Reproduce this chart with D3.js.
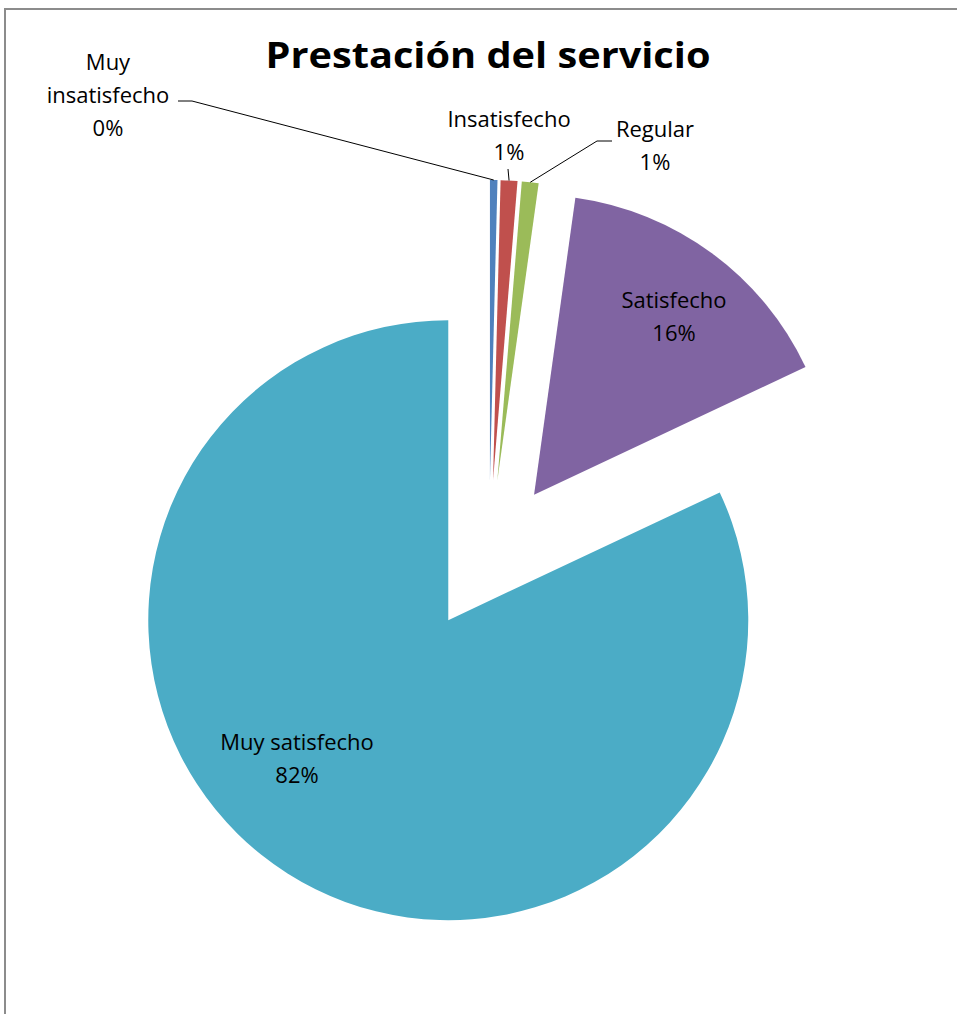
<!DOCTYPE html>
<html>
<head>
<meta charset="utf-8">
<script src="https://cdn.jsdelivr.net/npm/d3@7"></script>
<style>
  html, body { margin: 0; padding: 0; background: #fff; }
  svg { display: block; }
  text { font-family: "Open Sans", Lato, "Liberation Sans", sans-serif; fill: #000; }
</style>
</head>
<body>
<svg id="chart" width="957" height="1014"></svg>
<script>
// Survey answers: satisfaction with the service
const categories = ["Muy insatisfecho", "Insatisfecho", "Regular", "Satisfecho", "Muy satisfecho"];
const values = [0.4, 0.9, 0.9, 15.8, 82.0];
const colors = ["#4F81BD", "#C0504D", "#9BBB59", "#8064A2", "#4BACC6"];
const title = "Prestación del servicio";

// Layout
const W = 957, H = 1014;
const cx = 489, cy = 556;      // pie centre before explosion
const R = 300;                 // radius
const explode = 76;            // every slice pulled out along its bisector

// Label placement: text centre x, first baseline y, and (for outside labels) the leader start
const labelLayout = [
  { x: 108, y: 70,  lines: 3, leader: [[178, 101], [192, 101]] },
  { x: 509, y: 127, lines: 2, leader: [[508, 169]] },
  { x: 655, y: 137, lines: 2, leader: [[612, 141], [597, 141]] },
  { x: 674, y: 308, lines: 2 },
  { x: 297, y: 750, lines: 2 }
];
const lineGap = 33;

const svg = d3.select("#chart");

// Chart border
svg.append("rect")
  .attr("x", 5).attr("y", 9)
  .attr("width", W + 20).attr("height", H + 20)
  .attr("fill", "none")
  .attr("stroke", "#8c8c8c")
  .attr("stroke-width", 2);

// Title
svg.append("text")
  .attr("x", 488).attr("y", 68)
  .attr("text-anchor", "middle")
  .attr("textLength", 445)
  .attr("lengthAdjust", "spacingAndGlyphs")
  .style("font-weight", "bold")
  .style("font-size", "35px")
  .text(title);

const total = d3.sum(values);
const pct = d3.format(".0%");

const pie = d3.pie().sort(null).startAngle(0).endAngle(2 * Math.PI);
const arcs = pie(values);
const arc = d3.arc().innerRadius(0).outerRadius(R);
const rim = d3.arc().innerRadius(R).outerRadius(R);

// Offset of an exploded slice
function offset(d) {
  const a = (d.startAngle + d.endAngle) / 2;
  return [cx + explode * Math.sin(a), cy - explode * Math.cos(a)];
}

const g = svg.append("g");
g.selectAll("path.slice")
  .data(arcs)
  .join("path")
  .attr("class", "slice")
  .attr("transform", d => `translate(${offset(d)})`)
  .attr("fill", (d, i) => colors[i])
  .attr("d", arc);

// Leader lines from outside labels to slice rims
arcs.forEach((d, i) => {
  const L = labelLayout[i];
  if (!L.leader) return;
  const o = offset(d);
  const c = rim.centroid(d);
  const pts = L.leader.concat([[o[0] + c[0], o[1] + c[1]]]);
  svg.append("path")
    .attr("d", d3.line()(pts))
    .attr("fill", "none")
    .attr("stroke", "#000")
    .attr("stroke-width", 1);
});

// Data labels
arcs.forEach((d, i) => {
  const L = labelLayout[i];
  const name = categories[i];
  const words = L.lines === 3 ? name.split(" ") : [name];
  const rows = words.concat([pct(values[i] / total)]);
  const t = svg.append("text")
    .attr("text-anchor", "middle")
    .style("font-size", "22px");
  rows.forEach((r, k) => {
    t.append("tspan")
      .attr("x", L.x)
      .attr("y", L.y + k * lineGap)
      .text(r);
  });
});
</script>
</body>
</html>
